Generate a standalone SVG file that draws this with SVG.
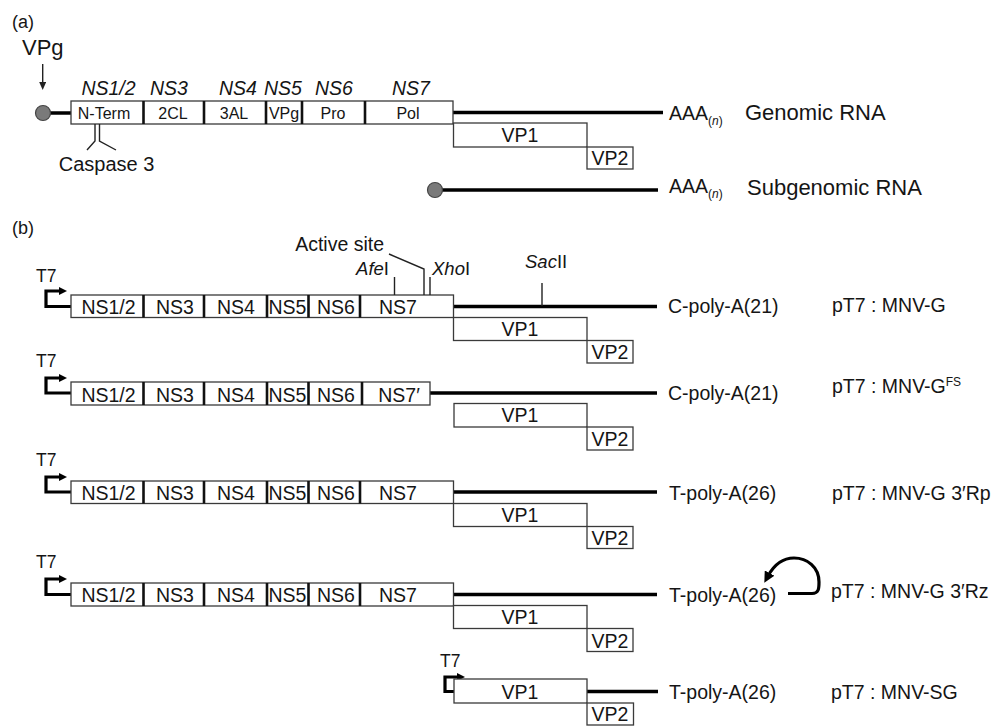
<svg xmlns="http://www.w3.org/2000/svg" width="993" height="726" viewBox="0 0 993 726">
<style>
.t{font-family:"Liberation Sans",Arial,sans-serif;fill:#151515}
.big{font-size:19.5px}
.mid{font-size:16px}
.it{font-style:italic}
.c{text-anchor:middle}
.box{fill:#fff;stroke:#3a3a3a;stroke-width:1.3}
.dv{stroke:#111;stroke-width:2.6}
.rna{stroke:#000;stroke-width:3.5;fill:none}
.thin{stroke:#222;stroke-width:1.4;fill:none}
.prom{stroke:#000;stroke-width:3.2;fill:none;marker-end:url(#ph)}
.cap{fill:#7a7a7a;stroke:#444;stroke-width:1.2}
</style>
<defs>
<marker id="ph" markerUnits="userSpaceOnUse" viewBox="0 0 8 8" markerWidth="8" markerHeight="8" refX="2" refY="4" orient="auto"><path d="M0,0 L8,4 L0,8 z" fill="#000"/></marker>
<marker id="va" markerUnits="userSpaceOnUse" viewBox="0 0 8 7" markerWidth="8" markerHeight="7" refX="2" refY="3.5" orient="auto"><path d="M0,0 L8,3.5 L0,7 z" fill="#222"/></marker>
<marker id="ca" markerUnits="userSpaceOnUse" viewBox="0 0 10 10" markerWidth="11" markerHeight="11" refX="3" refY="5" orient="auto"><path d="M0,0 L10,5 L0,10 z" fill="#000"/></marker>
</defs>

<text class="t" x="12" y="28" font-size="18">(a)</text>
<text class="t" x="12" y="234" font-size="18">(b)</text>

<g id="connectors">
<line class="thin" x1="42.7" y1="64" x2="42.7" y2="84" marker-end="url(#va)"/>
<line class="rna" x1="50" y1="113" x2="71" y2="113"/>
<line class="rna" x1="453" y1="112.5" x2="663" y2="112.5"/>
<line class="rna" x1="442" y1="190" x2="658" y2="190"/>
<line class="rna" x1="453" y1="306.5" x2="657" y2="306.5"/>
<line class="rna" x1="430" y1="393" x2="657" y2="393"/>
<line class="rna" x1="453" y1="492" x2="657" y2="492"/>
<line class="rna" x1="453" y1="594.5" x2="657" y2="594.5"/>
<line class="rna" x1="587" y1="691.5" x2="658" y2="691.5"/>
<path class="prom" d="M71,306.5 H46 V291 H61"/>
<path class="prom" d="M71,393 H46 V378 H61"/>
<path class="prom" d="M71,492 H46 V477 H61"/>
<path class="prom" d="M71,594.5 H46 V579 H61"/>
<path class="prom" d="M454,691.5 H445 V677 H459"/>
<path d="M788,593.5 H812 C819,593.5 819,588 819,582 C819,567 807,558 794,558 C782,558 774,565 768,576" stroke="#000" stroke-width="3.2" fill="none" marker-end="url(#ca)"/>
</g>

<g id="genomic">
<text class="t" x="22" y="55" font-size="22">VPg</text>
<circle class="cap" cx="43" cy="113" r="7.5"/>
<rect class="box" x="71" y="101" width="382" height="23"/>
<line class="dv" x1="143.5" y1="101" x2="143.5" y2="124"/>
<line class="dv" x1="204" y1="101" x2="204" y2="124"/>
<line class="dv" x1="266" y1="101" x2="266" y2="124"/>
<line class="dv" x1="302" y1="101" x2="302" y2="124"/>
<line class="dv" x1="365" y1="101" x2="365" y2="124"/>
<g class="t big it c">
<text x="108.5" y="95">NS1/2</text><text x="169" y="95">NS3</text><text x="238" y="95">NS4</text><text x="283" y="95">NS5</text><text x="334" y="95">NS6</text><text x="411" y="95">NS7</text>
</g>
<g class="t mid c">
<text x="104" y="119">N-Term</text><text x="173" y="119">2CL</text><text x="234" y="119">3AL</text><text x="284" y="119">VPg</text><text x="333" y="119">Pro</text><text x="408" y="119">Pol</text>
</g>
<path class="thin" d="M95,124 V141 L87,150 M99.5,124 V141 L116,150" stroke-width="1.2"/>
<text class="t c" x="106.5" y="171" font-size="20">Caspase 3</text>
<rect class="box" x="453.5" y="123" width="133.5" height="24"/>
<rect class="box" x="587" y="147" width="46" height="22"/>
<text class="t big c" x="520" y="142">VP1</text>
<text class="t big c" x="610" y="165">VP2</text>
<text class="t" x="669" y="119.5" font-size="19.5">AAA<tspan font-size="12" dy="5">(</tspan><tspan font-size="12" font-style="italic">n</tspan><tspan font-size="12">)</tspan></text>
<text class="t" x="745" y="120" font-size="22">Genomic RNA</text>
</g>

<g id="subgenomic">
<circle class="cap" cx="435" cy="190" r="7.5"/>
<text class="t" x="669" y="193" font-size="19.5">AAA<tspan font-size="12" dy="5">(</tspan><tspan font-size="12" font-style="italic">n</tspan><tspan font-size="12">)</tspan></text>
<text class="t" x="747" y="195" font-size="22">Subgenomic RNA</text>
</g>

<g id="construct-G">
<text class="t" x="36" y="282" font-size="17.5">T7</text>
<rect class="box" x="71" y="295" width="382.5" height="22.5"/>
<line class="dv" x1="143.5" y1="295" x2="143.5" y2="317.5"/>
<line class="dv" x1="204" y1="295" x2="204" y2="317.5"/>
<line class="dv" x1="267" y1="295" x2="267" y2="317.5"/>
<line class="dv" x1="308.5" y1="295" x2="308.5" y2="317.5"/>
<line class="dv" x1="360" y1="295" x2="360" y2="317.5"/>
<g class="t big c"><text x="108.5" y="314">NS1/2</text><text x="175" y="314">NS3</text><text x="236" y="314">NS4</text><text x="287.5" y="314">NS5</text><text x="336" y="314">NS6</text><text x="398" y="314">NS7</text></g>
<rect class="box" x="453.5" y="317.5" width="133.5" height="23"/>
<rect class="box" x="587" y="340.5" width="46" height="22.5"/>
<text class="t big c" x="520" y="336">VP1</text>
<text class="t big c" x="610" y="359">VP2</text>
<text class="t big" x="384" y="251" text-anchor="end">Active site</text>
<path class="thin" d="M389,254 L424,269 V295"/>
<line class="thin" x1="394.5" y1="277" x2="394.5" y2="295"/>
<line class="thin" x1="430" y1="277" x2="430" y2="295"/>
<line class="thin" x1="542" y1="283" x2="542" y2="306"/>
<text class="t" x="389" y="275" font-size="18.5" text-anchor="end"><tspan font-style="italic">Afe</tspan>I</text>
<text class="t" x="432" y="275" font-size="18.5"><tspan font-style="italic">Xho</tspan>I</text>
<text class="t" x="525" y="268" font-size="18.5"><tspan font-style="italic">Sac</tspan>II</text>
<text class="t big" x="668" y="313">C-poly-A(21)</text>
<text class="t big" x="832" y="312">pT7 : MNV-G</text>
</g>

<g id="construct-GFS">
<text class="t" x="36" y="367" font-size="17.5">T7</text>
<rect class="box" x="71" y="382" width="359" height="23"/>
<line class="dv" x1="143.5" y1="382" x2="143.5" y2="405"/>
<line class="dv" x1="204" y1="382" x2="204" y2="405"/>
<line class="dv" x1="267" y1="382" x2="267" y2="405"/>
<line class="dv" x1="308.5" y1="382" x2="308.5" y2="405"/>
<line class="dv" x1="362" y1="382" x2="362" y2="405"/>
<g class="t big c"><text x="108.5" y="401.5">NS1/2</text><text x="175" y="401.5">NS3</text><text x="236" y="401.5">NS4</text><text x="287.5" y="401.5">NS5</text><text x="336" y="401.5">NS6</text><text x="399" y="401.5">NS7′</text></g>
<rect class="box" x="454" y="403.5" width="133" height="23.5"/>
<rect class="box" x="587" y="427" width="46" height="23"/>
<text class="t big c" x="520" y="422">VP1</text>
<text class="t big c" x="610" y="446">VP2</text>
<text class="t big" x="668" y="399.5">C-poly-A(21)</text>
<text class="t big" x="832" y="393">pT7 : MNV-G<tspan font-size="12" dy="-7">FS</tspan></text>
</g>

<g id="construct-3Rp">
<text class="t" x="36" y="466" font-size="17.5">T7</text>
<rect class="box" x="71" y="481" width="382.5" height="22.5"/>
<line class="dv" x1="143.5" y1="481" x2="143.5" y2="503.5"/>
<line class="dv" x1="204" y1="481" x2="204" y2="503.5"/>
<line class="dv" x1="267" y1="481" x2="267" y2="503.5"/>
<line class="dv" x1="308.5" y1="481" x2="308.5" y2="503.5"/>
<line class="dv" x1="360" y1="481" x2="360" y2="503.5"/>
<g class="t big c"><text x="108.5" y="500">NS1/2</text><text x="175" y="500">NS3</text><text x="236" y="500">NS4</text><text x="287.5" y="500">NS5</text><text x="336" y="500">NS6</text><text x="398" y="500">NS7</text></g>
<rect class="box" x="453.5" y="503.5" width="133.5" height="23"/>
<rect class="box" x="587" y="526.5" width="46" height="22"/>
<text class="t big c" x="520" y="522">VP1</text>
<text class="t big c" x="610" y="545">VP2</text>
<text class="t big" x="669" y="500">T-poly-A(26)</text>
<text class="t big" x="832" y="499.5">pT7 : MNV-G 3′Rp</text>
</g>

<g id="construct-3Rz">
<text class="t" x="36" y="568" font-size="17.5">T7</text>
<rect class="box" x="71" y="583" width="382.5" height="23"/>
<line class="dv" x1="143.5" y1="583" x2="143.5" y2="606"/>
<line class="dv" x1="204" y1="583" x2="204" y2="606"/>
<line class="dv" x1="267" y1="583" x2="267" y2="606"/>
<line class="dv" x1="308.5" y1="583" x2="308.5" y2="606"/>
<line class="dv" x1="360" y1="583" x2="360" y2="606"/>
<g class="t big c"><text x="108.5" y="602">NS1/2</text><text x="175" y="602">NS3</text><text x="236" y="602">NS4</text><text x="287.5" y="602">NS5</text><text x="336" y="602">NS6</text><text x="398" y="602">NS7</text></g>
<rect class="box" x="453.5" y="605.5" width="133.5" height="23"/>
<rect class="box" x="587" y="628.5" width="46" height="23"/>
<text class="t big c" x="520" y="624">VP1</text>
<text class="t big c" x="610" y="647.5">VP2</text>
<text class="t big" x="669" y="601.5">T-poly-A(26)</text>
<text class="t big" x="831" y="598">pT7 : MNV-G 3′Rz</text>
</g>

<g id="construct-SG">
<text class="t" x="440" y="667" font-size="17.5">T7</text>
<rect class="box" x="454" y="679" width="133" height="24"/>
<rect class="box" x="587" y="703" width="46.5" height="22"/>
<text class="t big c" x="520" y="698.5">VP1</text>
<text class="t big c" x="610" y="721">VP2</text>
<text class="t big" x="669" y="699">T-poly-A(26)</text>
<text class="t big" x="831" y="699">pT7 : MNV-SG</text>
</g>
</svg>
